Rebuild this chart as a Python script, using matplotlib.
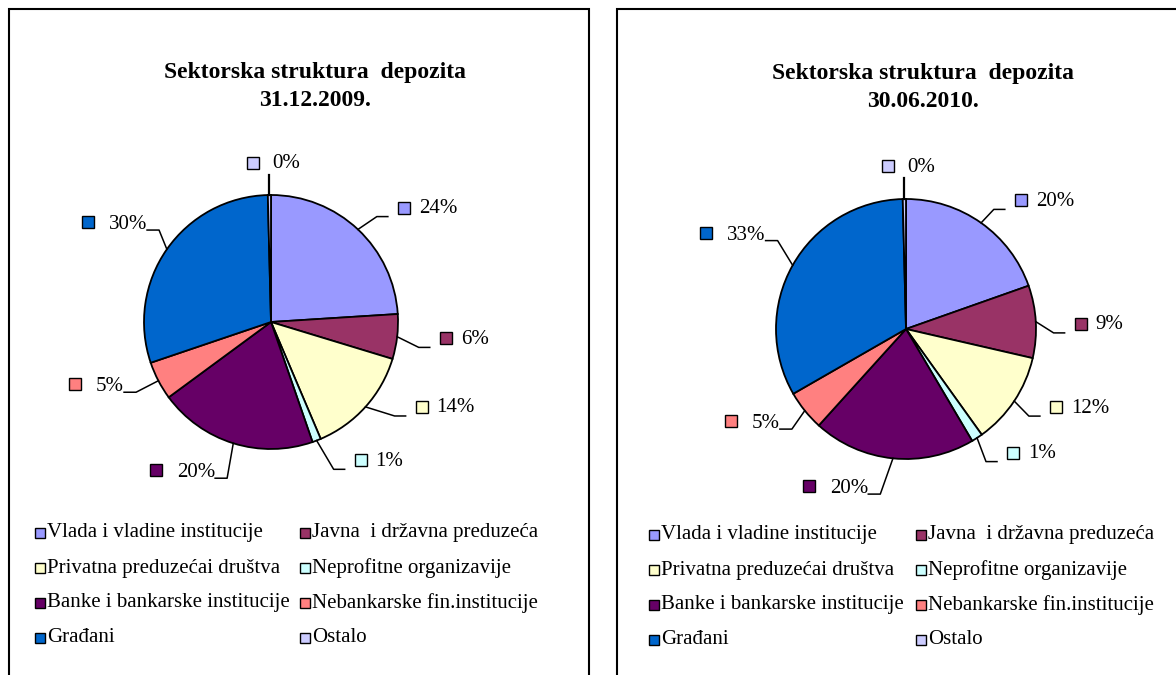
import matplotlib.pyplot as plt
from matplotlib.patches import Rectangle
import numpy as np

W, H = 1176, 675

sectors = ["Vlada i vladine institucije", "Javna  i državna preduzeća",
           "Privatna preduzećai društva", "Neprofitne organizavije",
           "Banke i bankarske institucije", "Nebankarske fin.institucije",
           "Građani", "Ostalo"]
colors = ["#9999FF", "#993366", "#FFFFCC", "#CCFFFF",
          "#660066", "#FF8080", "#0066CC", "#CCCCFF"]

# share of deposits, %
share_2009 = [24.0, 5.7, 13.9, 1.1, 20.2, 4.9, 29.8, 0.4]
share_2010 = [19.6, 9.0, 11.5, 1.4, 20.2, 5.0, 32.9, 0.4]

title_top = "Sektorska struktura  depozita"
dates = ["31.12.2009.", "30.06.2010."]

# layout in reference pixels (y measured from the top)
panels = [
    dict(values=share_2009, date=dates[0], center=(271, 322), radius=127,
         title_x=315, title_base=(78, 106), box_x=(9, 589),
         legend_x=(40, 305), legend_y=533,
         # end of each leader line in radius units, and label side
         labels=[(0.92, 0.83, "R"), (1.25, -0.20, "R"), (1.06, -0.74, "R"),
                 (0.58, -1.16, "R"), (-0.44, -1.23, "L"), (-1.157, -0.553, "L"),
                 (-0.976, 0.724, "L"), (0.0, 1.16, "T")]),
    dict(values=share_2010, date=dates[1], center=(906, 329), radius=130,
         title_x=923, title_base=(79, 107), box_x=(617, 1190),
         legend_x=(654, 921), legend_y=535,
         labels=[(0.76, 0.92, "R"), (1.22, -0.03, "R"), (1.03, -0.67, "R"),
                 (0.70, -1.02, "R"), (-0.29, -1.27, "L"), (-0.97, -0.77, "L"),
                 (-1.08, 0.68, "L"), (0.0, 1.16, "T")]),
]

serif = "Liberation Serif"
plt.rcParams["font.family"] = [serif, "DejaVu Serif"]

fig = plt.figure(figsize=(W / 100, H / 100), dpi=100)
ax = fig.add_axes([0, 0, 1, 1])
renderer = fig.canvas.get_renderer()


def set_frame():
    ax.set_xlim(0, W)
    ax.set_ylim(0, H)
    ax.set_aspect("equal")
    ax.set_axis_off()


def key_square(x, y, size, color):
    ax.add_patch(Rectangle((x - size / 2, y - size / 2), size, size,
                           facecolor=color, edgecolor="black", linewidth=1.0,
                           zorder=4))


for p in panels:
    cx, cy = p["center"][0], H - p["center"][1]
    r = p["radius"]

    x0, x1 = p["box_x"]
    ax.add_patch(Rectangle((x0, -20), x1 - x0, H - 9 + 20, fill=False,
                           edgecolor="black", linewidth=1.5, zorder=1))

    for line, base in zip([title_top, p["date"]], p["title_base"]):
        ax.text(p["title_x"], H - base, line, ha="center", va="baseline",
                fontsize=17, fontweight="bold")

    wedges, _ = ax.pie(p["values"], colors=colors, startangle=90,
                       counterclock=False, center=(cx, cy), radius=r,
                       wedgeprops=dict(edgecolor="black", linewidth=1.3))
    set_frame()

    for i, w in enumerate(wedges):
        lx, ly, side = p["labels"][i]
        ang = np.deg2rad((w.theta1 + w.theta2) / 2)
        sx, sy = cx + r * np.cos(ang), cy + r * np.sin(ang)
        ex, ey = cx + lx * r, cy + ly * r
        pct = f"{round(p['values'][i]):.0f}%"
        if side == "R":
            ax.plot([sx, ex - 11, ex], [sy, ey, ey], color="black", lw=1.1,
                    zorder=3)
            key_square(ex + 16, ey + 9, 12, colors[i])
            ax.text(ex + 31, ey + 8, pct, ha="left", va="center", fontsize=15)
        elif side == "L":
            ax.plot([sx, ex + 12, ex], [sy, ey, ey], color="black", lw=1.1,
                    zorder=3)
            t = ax.text(ex, ey + 1, pct, ha="right", va="baseline", fontsize=15)
            bb = t.get_window_extent(renderer)
            key_square(bb.x0 - 21, ey + 8, 12, colors[i])
        else:
            ax.plot([sx, sx], [sy, ey], color="black", lw=1.6, zorder=3)
            key_square(ex - 18, ey + 12, 12, colors[i])
            ax.text(ex + 1, ey + 11, pct, ha="left", va="center", fontsize=15)

    # legend, row by row in two columns
    for i, name in enumerate(sectors):
        row, col = divmod(i, 2)
        lx = p["legend_x"][col]
        ly = H - (p["legend_y"] + row * 35)
        key_square(lx, ly, 10, colors[i])
        ax.text(lx + 7, ly, name, ha="left", va="center", fontsize=15)

set_frame()
fig.savefig("out.png", dpi=100, facecolor="white")
